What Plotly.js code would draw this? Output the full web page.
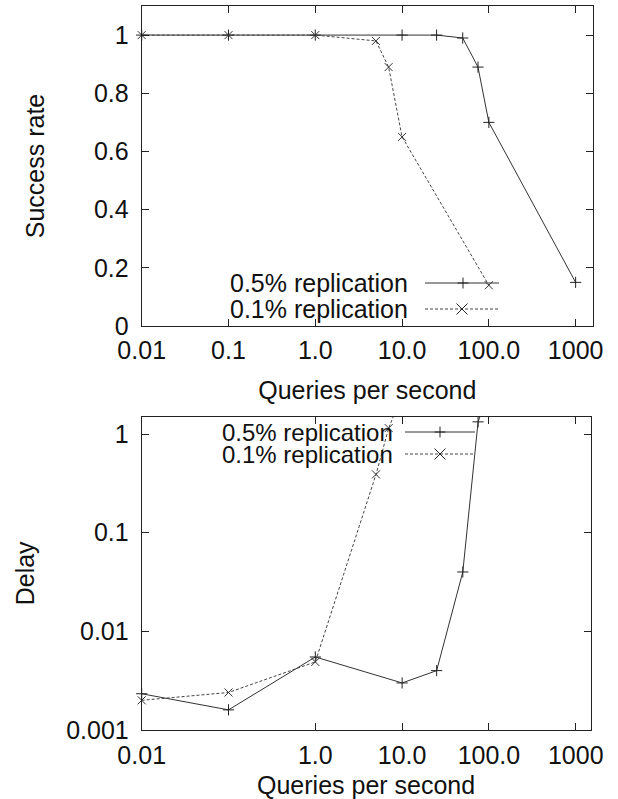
<!DOCTYPE html>
<html>
<head>
<meta charset="utf-8">
<script src="https://cdn.plot.ly/plotly-3.0.1.min.js"></script>
<style>html,body{margin:0;padding:0;background:#fff;}#chart{width:618px;height:799px;}</style>
</head>
<body>
<div id="chart"></div>
<script>
// ---- data ----
const seriesNames = ['0.5% replication', '0.1% replication'];
// Top panel: success rate
const qpsRate05 = [0.01, 0.1, 1, 10, 25, 50, 75, 100, 1000];
const rate05    = [1, 1, 1, 1, 1, 0.99, 0.89, 0.70, 0.15];
const qpsRate01 = [0.01, 0.1, 1, 5, 7, 10, 100];
const rate01    = [1, 1, 1, 0.98, 0.89, 0.65, 0.14];
// Bottom panel: delay
const qpsDelay05 = [0.01, 0.1, 1, 10, 25, 50, 75, 100];
const delay05    = [0.00233, 0.0016, 0.0055, 0.0030, 0.0040, 0.040, 1.33, 2.7];
const qpsDelay01 = [0.01, 0.1, 1, 5, 7, 10];
const delay01    = [0.0020, 0.0024, 0.0049, 0.39, 1.15, 2.5];
// ticks
const xTickValsTop = [0.01, 0.1, 1, 10, 100, 1000];
const xTickTextTop = ['0.01', '0.1', '1.0', '10.0', '100.0', '1000'];
const xTickValsBot = [0.01, 1, 10, 100, 1000];
const xTickTextBot = ['0.01', '1.0', '10.0', '100.0', '1000'];
const yTickValsRate = [0, 0.2, 0.4, 0.6, 0.8, 1];
const yTickTextRate = ['0', '0.2', '0.4', '0.6', '0.8', '1'];
const yTickValsDelay = [0.001, 0.01, 0.1, 1];
const yTickTextDelay = ['0.001', '0.01', '0.1', '1'];

// ---- layout helpers ----
const W = 618, H = 799;
const px = x => x / W;
const py = y => 1 - y / H;
const FONT = 'Liberation Sans, Arial, Helvetica, sans-serif';
const INK = '#111';
const solid = {color: '#333', width: 1};
const dashed = {color: '#444', width: 1, dash: '3px,2px'};

function mk(sym, color) {
  return {symbol: sym, size: 8, color: color, line: {color: color, width: 1}};
}

const traces = [
  {x: qpsRate05, y: rate05, name: seriesNames[0], mode: 'lines+markers', line: solid,
   marker: mk('cross-thin', '#222'), xaxis: 'x', yaxis: 'y', cliponaxis: false},
  {x: qpsRate01, y: rate01, name: seriesNames[1], mode: 'lines+markers', line: dashed,
   marker: mk('x-thin', '#333'), xaxis: 'x', yaxis: 'y', cliponaxis: false},
  {x: qpsDelay05, y: delay05, name: seriesNames[0], mode: 'lines+markers', line: solid,
   marker: mk('cross-thin', '#222'), xaxis: 'x2', yaxis: 'y2', cliponaxis: false},
  {x: qpsDelay01, y: delay01, name: seriesNames[1], mode: 'lines+markers', line: dashed,
   marker: mk('x-thin', '#333'), xaxis: 'x2', yaxis: 'y2', cliponaxis: false}
];

const tickFont = {family: FONT, size: 25, color: INK};
const titleFont = {family: FONT, size: 25, color: INK};
const axBase = {
  showgrid: false, zeroline: false, showline: true, linecolor: '#222', linewidth: 1,
  ticks: 'inside', ticklen: 7, tickwidth: 1, tickcolor: '#222',
  tickfont: tickFont, automargin: false, fixedrange: true
};

// legend decoration (gnuplot style: text then sample)
const shapes = [];
const annotations = [];
function legendRow(textRight, x0, x1, xm, y, isPlus, lineStyle, fontSize) {
  annotations.push({xref: 'paper', yref: 'paper', x: px(textRight), y: py(y),
    xanchor: 'right', yanchor: 'middle', showarrow: false, text: isPlus ? seriesNames[0] : seriesNames[1],
    font: {family: FONT, size: fontSize, color: INK}});
  shapes.push({type: 'line', xref: 'paper', yref: 'paper', x0: px(x0), x1: px(x1), y0: py(y), y1: py(y),
    line: lineStyle});
  const r = 5.5;
  let p;
  if (isPlus) {
    p = `M${px(xm - r)},${py(y)} L${px(xm + r)},${py(y)} M${px(xm)},${py(y - r)} L${px(xm)},${py(y + r)}`;
  } else {
    p = `M${px(xm - r)},${py(y - r)} L${px(xm + r)},${py(y + r)} M${px(xm - r)},${py(y + r)} L${px(xm + r)},${py(y - r)}`;
  }
  shapes.push({type: 'path', xref: 'paper', yref: 'paper', path: p, line: {color: '#222', width: 1}});
}
legendRow(410, 425, 499, 463, 283, true, solid, 25);
legendRow(410, 425, 499, 462, 309, false, dashed, 25);
legendRow(395, 405, 475, 440, 432, true, solid, 24);
legendRow(395, 405, 475, 440, 454, false, dashed, 24);

const layout = {
  width: W, height: H,
  margin: {l: 0, r: 0, t: 0, b: 0},
  paper_bgcolor: '#fff', plot_bgcolor: '#fff',
  showlegend: false,
  font: {family: FONT, color: INK},
  xaxis: Object.assign({}, axBase, {
    type: 'log', range: [-2, 3.2], domain: [px(141.7), px(593)], anchor: 'y',
    tickvals: xTickValsTop, ticktext: xTickTextTop, mirror: 'all', ticklabelstandoff: 2,
    title: {text: 'Queries per second', font: titleFont, standoff: 18}
  }),
  yaxis: Object.assign({}, axBase, {
    range: [0, 1.1], domain: [py(326), py(6)], anchor: 'x',
    tickvals: yTickValsRate, ticktext: yTickTextRate, mirror: 'all', ticklabelstandoff: 7,
    title: {text: 'Success rate', font: titleFont, standoff: 42}
  }),
  xaxis2: Object.assign({}, axBase, {
    type: 'log', range: [-2, 3.17], domain: [px(141.7), px(590.5)], anchor: 'y2',
    tickvals: xTickValsBot, ticktext: xTickTextBot, mirror: 'ticks', ticklabelstandoff: 3,
    title: {text: 'Queries per second', font: titleFont, standoff: 18}
  }),
  yaxis2: Object.assign({}, axBase, {
    type: 'log', range: [-3, Math.log10(1.5)], domain: [py(730), py(416.7)], anchor: 'x2',
    tickvals: yTickValsDelay, ticktext: yTickTextDelay, mirror: 'all', ticklabelstandoff: 7,
    title: {text: 'Delay', font: titleFont, standoff: 24}
  }),
  shapes: shapes,
  annotations: annotations
};

Plotly.newPlot('chart', traces, layout, {displayModeBar: false, staticPlot: true});
</script>
</body>
</html>
